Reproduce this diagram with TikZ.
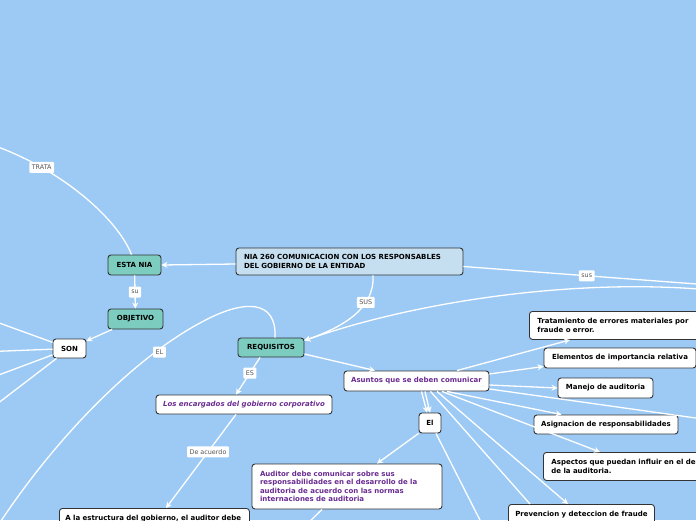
\documentclass[tikz,border=0pt]{standalone}
\usepackage{fontspec}
\setmainfont{DejaVu Sans}
\usetikzlibrary{arrows.meta,calc}
\definecolor{bgc}{HTML}{9CCAF5}
\definecolor{tealc}{HTML}{7CCDBF}
\definecolor{mainc}{HTML}{C5DEF0}
\definecolor{bordc}{HTML}{333333}
\definecolor{purp}{HTML}{6A2C91}
\definecolor{labc}{HTML}{555555}
\begin{document}
\begin{tikzpicture}[x=1pt,y=-1pt,
  box/.style={draw=bordc, line width=0.9pt, rounded corners=3pt, fill=white, text=black,
    font=\fontsize{7}{8.3}\selectfont\bfseries, inner sep=0pt},
  tealbox/.style={box, fill=tealc},
  purpbox/.style={box, text=purp},
  lab/.style={fill=white, rounded corners=1pt, text=labc, font=\fontsize{6.4}{7}\selectfont,
    inner xsep=2.5pt, inner ysep=0pt, minimum height=11pt},
  conn/.style={draw=white, line width=1.3pt},
  arr/.style={conn, -{Stealth[length=6pt,width=6pt]}}]
\useasboundingbox (0,0) rectangle (696,520);
\fill[bgc] (0,0) rectangle (696,520);
\clip (0,0) rectangle (696,520);

% nodes
\node[box, fill=mainc, minimum width=227pt, minimum height=27pt, text width=211pt, align=left,
  font=\fontsize{7}{9}\selectfont\bfseries] (nia) at (349.5,261.5)
  {NIA 260 COMUNICACION CON LOS RESPONSABLES\\DEL GOBIERNO DE LA ENTIDAD};
\node[tealbox, minimum width=53pt, minimum height=20pt] (esta) at (134.5,265) {ESTA NIA};
\node[tealbox, minimum width=55pt, minimum height=20pt] (obj) at (135.5,319) {OBJETIVO};
\node[box, minimum width=33pt, minimum height=19pt] (son) at (69.5,348.5) {SON};
\node[tealbox, minimum width=66pt, minimum height=19pt] (req) at (271,347.5) {REQUISITOS};
\node[purpbox, minimum width=176pt, minimum height=19pt,
  font=\fontsize{7}{8.3}\selectfont\bfseries\itshape] (enc) at (244,404.5)
  {Los encargados del gobierno corporativo};
\node[purpbox, minimum width=145pt, minimum height=20pt] (asu) at (416.5,381) {Asuntos que se deben comunicar};
\node[box, minimum width=22pt, minimum height=20pt] (el) at (430,423) {El};
\node[purpbox, minimum width=190pt, minimum height=45pt, text width=174pt, align=left,
  font=\fontsize{7}{8.5}\selectfont\bfseries] (aud) at (347,486.5)
  {Auditor debe comunicar sobre sus\\responsabilidades en el desarrollo de la\\auditoria de acuerdo con las normas\\internaciones de auditoria};
\node[box, anchor=north west, minimum width=190pt, minimum height=30pt, text width=178pt,
  align=left, inner xsep=6pt, inner ysep=5pt] (est) at (59,508)
  {A la estructura del gobierno, el auditor debe\\\strut};
\node[box, anchor=north west, minimum height=28pt, text width=160pt, align=left,
  inner xsep=8pt] (tra) at (529,311)
  {Tratamiento de errores materiales por\\fraude o error.};
\node[box, minimum width=152pt, minimum height=20pt] (ele) at (620,358) {Elementos de importancia relativa};
\node[box, minimum width=95pt, minimum height=20pt] (man) at (605.5,388) {Manejo de auditoria};
\node[box, minimum width=144pt, minimum height=19pt] (asi) at (606,424.5) {Asignacion de responsabilidades};
\node[box, anchor=north west, minimum height=28pt, text width=200pt, align=left,
  inner xsep=8pt] (asp) at (543,452)
  {Aspectos que puedan influir en el desarrollo\\de la auditoria.};
\node[box, anchor=north west, minimum width=146pt, minimum height=20pt] (pre) at (508,504)
  {Prevencion y deteccion de fraude};

% free ends
\coordinate (cT) at (-2,147);
\coordinate (s1) at (-20,316);
\coordinate (s2) at (-20,352);
\coordinate (s3) at (-20,382);
\coordinate (s4) at (-20,417);
\coordinate (cR1) at (710,285);
\coordinate (cR2) at (710,290);
\coordinate (cEL) at (-5,530);
\coordinate (cE) at (485,530);
\coordinate (cA) at (305,526);
\coordinate (cR) at (710,420);

% connectors
\draw[conn] ([xshift=-3pt]esta.north) .. controls (118,220) and (65,172) .. (cT)
  node[lab, pos=0.77] (lT) {TRATA};
\draw[arr] (nia.west |- 0,264) -- (esta.east |- 0,265);
\draw[arr] (esta) -- (obj) node[lab, midway] (lsu) {su};
\draw[arr] (obj) -- (son);
\draw[conn] (son) -- (s1);
\draw[conn] (son) -- (s2);
\draw[conn] (son) -- (s3);
\draw[conn] (son) -- (s4);
\draw[arr] ([xshift=23.5pt]nia.south) .. controls (375,310) and (340,328) .. ([yshift=7pt]req.east)
  node[lab, pos=0.3] (lSUS) {SUS};
\draw[arr] (cR2) .. controls (580,278) and (420,300) .. ([yshift=7pt]req.east);
\draw[conn] ([yshift=-5pt]nia.east) -- (cR1) node[lab, pos=0.5] (lsus) {sus};
\draw[conn] ([xshift=4pt]req.north) .. controls (277,300) and (245,298) .. (200,323)
  .. controls (140,355) and (60,430) .. (cEL);
\node[lab] (lEL) at (159.5,352) {EL};
\draw[arr] ([xshift=-11pt]req.south) -- ([xshift=-8pt]enc.north) node[lab, pos=0.42] (lES) {ES};
\draw[arr] ([yshift=-6.5pt]req.east) -- ([xshift=-41.5pt]asu.north);
\draw[arr] ([xshift=-8pt]enc.south) -- ([xshift=107pt]est.north west)
  node[lab, pos=0.4] (lDe) {De acuerdo};
\draw[arr] ([xshift=5pt]asu.south) -- ([xshift=-3pt]el.north);
\draw[arr] ([xshift=8.5pt]asu.south) -- (el.north);
\draw[arr] (el.south west) -- ([xshift=30pt]aud.north);
\draw[conn] ([xshift=6pt]el.south) -- (cE);
\draw[conn] ([xshift=-25pt]aud.south) -- (cA);
\draw[arr] ([xshift=40.5pt]asu.north) -- ([xshift=41pt]tra.south west);
\draw[arr] ([yshift=7pt]asu.east) -- ([yshift=2pt]ele.south west);
\draw[arr] ([yshift=-4pt]asu.east) -- (man.west);
\draw[conn] ([yshift=-8pt]asu.east) -- (cR);
\draw[arr] ([xshift=30.5pt]asu.south) -- ([xshift=28pt]asi.north west);
\draw[arr] ([xshift=25.5pt]asu.south) -- ([xshift=57pt]asp.north west);
\draw[arr] ([xshift=20.5pt]asu.south) -- ([xshift=60pt]pre.north west);
\draw[conn] ([xshift=14pt]asu.south) -- ([xshift=22pt]pre.north west);
\end{tikzpicture}
\end{document}
